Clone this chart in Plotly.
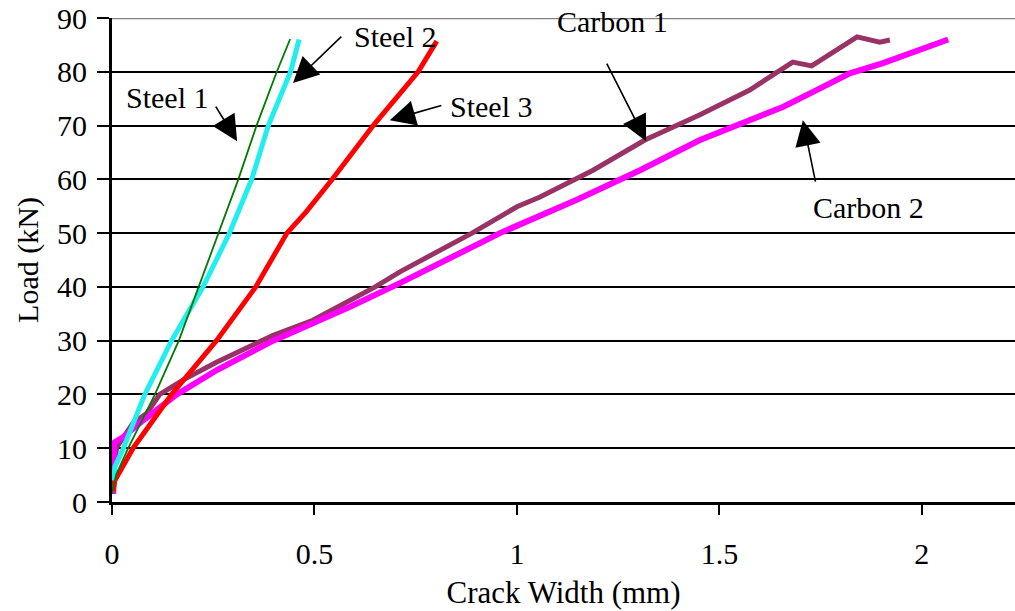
import plotly.graph_objects as go

# Load vs crack width readings for each specimen (crack width in mm, load in kN)
steel1_w = [0.0, 0.01, 0.04, 0.106, 0.165, 0.214, 0.263, 0.312, 0.357, 0.407, 0.44]
steel1_p = [1.5, 5.0, 10.0, 20.0, 30.0, 40.0, 50.0, 60.0, 70.0, 80.0, 86.1]

steel2_w = [0.003, 0.007, 0.028, 0.081, 0.147, 0.225, 0.29, 0.345, 0.386, 0.441, 0.462]
steel2_p = [4.0, 6.5, 10.0, 20.0, 30.0, 40.0, 50.0, 60.0, 70.0, 80.0, 86.0]

steel3_w = [0.003, 0.007, 0.052, 0.147, 0.258, 0.333, 0.355, 0.432, 0.48, 0.544, 0.645, 0.756, 0.802]
steel3_p = [2.0, 4.0, 10.0, 20.0, 30.0, 37.6, 40.0, 50.0, 54.0, 60.0, 70.0, 80.0, 85.7]

carbon1_w = [0.003, 0.012, 0.052, 0.086, 0.118, 0.176, 0.258, 0.365, 0.398, 0.496, 0.588,
             0.65, 0.711, 0.889, 1.0, 1.057, 1.188, 1.316, 1.452, 1.575, 1.681, 1.728,
             1.84, 1.896, 1.921]
carbon1_p = [6.0, 10.2, 14.7, 16.5, 20.0, 22.7, 26.0, 30.0, 31.0, 33.8, 37.6,
             40.0, 42.8, 50.0, 54.9, 56.7, 61.7, 67.3, 72.0, 76.6, 81.8, 81.1,
             86.5, 85.5, 85.9]

carbon2_w = [0.003, 0.003, 0.005, 0.028, 0.077, 0.16, 0.258, 0.398, 0.588, 0.711, 0.958,
             1.148, 1.304, 1.452, 1.575, 1.658, 1.74, 1.822, 1.904, 1.987, 2.065]
carbon2_p = [1.5, 8.0, 11.0, 12.1, 15.2, 20.0, 24.5, 30.0, 36.3, 40.7, 50.0,
             56.2, 61.7, 67.3, 71.0, 73.5, 76.6, 79.7, 81.6, 84.0, 86.0]

x_ticks = [0, 0.5, 1, 1.5, 2]
x_tick_text = ["0", "0.5", "1", "1.5", "2"]
y_ticks = [0, 10, 20, 30, 40, 50, 60, 70, 80, 90]

# Labels: (text, text x, text y, arrow tip x, arrow tip y, arrow tail x, arrow tail y)
labels = [
    ("Steel 1", 0.138, 75.3, 0.309, 67.1, 0.254, 73.8),
    ("Steel 2", 0.699, 86.6, 0.447, 77.9, 0.570, 86.8),
    ("Steel 3", 0.938, 73.6, 0.686, 71.0, 0.817, 73.8),
    ("Carbon 1", 1.237, 89.4, 1.319, 67.1, 1.220, 81.8),
    ("Carbon 2", 1.867, 54.7, 1.706, 71.0, 1.738, 59.3),
]

FONT = "Liberation Serif"

fig = go.Figure()
series = [
    (carbon1_w, carbon1_p, "#993366", 5),
    (carbon2_w, carbon2_p, "#FF00FF", 6),
    (steel3_w, steel3_p, "#FF0000", 5),
    (steel2_w, steel2_p, "#22EEEE", 5),
    (steel1_w, steel1_p, "#007A00", 1.8),
]
for w, p, color, lw in series:
    fig.add_trace(go.Scatter(x=w, y=p, mode="lines",
                             line=dict(color=color, width=lw),
                             showlegend=False))

annotations = []
for text, tx, ty, hx, hy, sx, sy in labels:
    annotations.append(dict(x=tx, y=ty, xref="x", yref="y", text=text,
                            showarrow=False, font=dict(family=FONT, size=30, color="black")))
    annotations.append(dict(x=hx, y=hy, xref="x", yref="y", ax=sx, ay=sy,
                            axref="x", ayref="y", text="", showarrow=True,
                            arrowhead=2, arrowsize=3.2, arrowwidth=1.6,
                            arrowcolor="black"))

fig.update_layout(
    width=1015, height=611,
    margin=dict(l=112, r=0, t=18, b=109),
    paper_bgcolor="white", plot_bgcolor="white",
    font=dict(family=FONT, size=30, color="black"),
    annotations=annotations,
    shapes=[dict(type="line", xref="paper", yref="y", x0=0, x1=1, y0=90, y1=90,
                 line=dict(color="#808080", width=2.5), layer="above")],
    xaxis=dict(range=[0, 2.23], tickvals=x_ticks, ticktext=x_tick_text,
               showgrid=False, zeroline=False, showline=True, linecolor="black",
               linewidth=3, ticks="outside", ticklen=10, tickwidth=2, tickcolor="black",
               ticklabelstandoff=13,
               title=dict(text="Crack Width (mm)", font=dict(size=31), standoff=13)),
    yaxis=dict(range=[0, 90], tickvals=y_ticks, showgrid=True, gridcolor="black",
               gridwidth=1.5, zeroline=False, showline=True, linecolor="black",
               linewidth=3, ticks="outside", ticklen=12, tickwidth=2, tickcolor="black",
               ticklabelstandoff=4,
               title=dict(text="Load (kN)", font=dict(size=30), standoff=10)),
)

fig.write_html("out.html")
